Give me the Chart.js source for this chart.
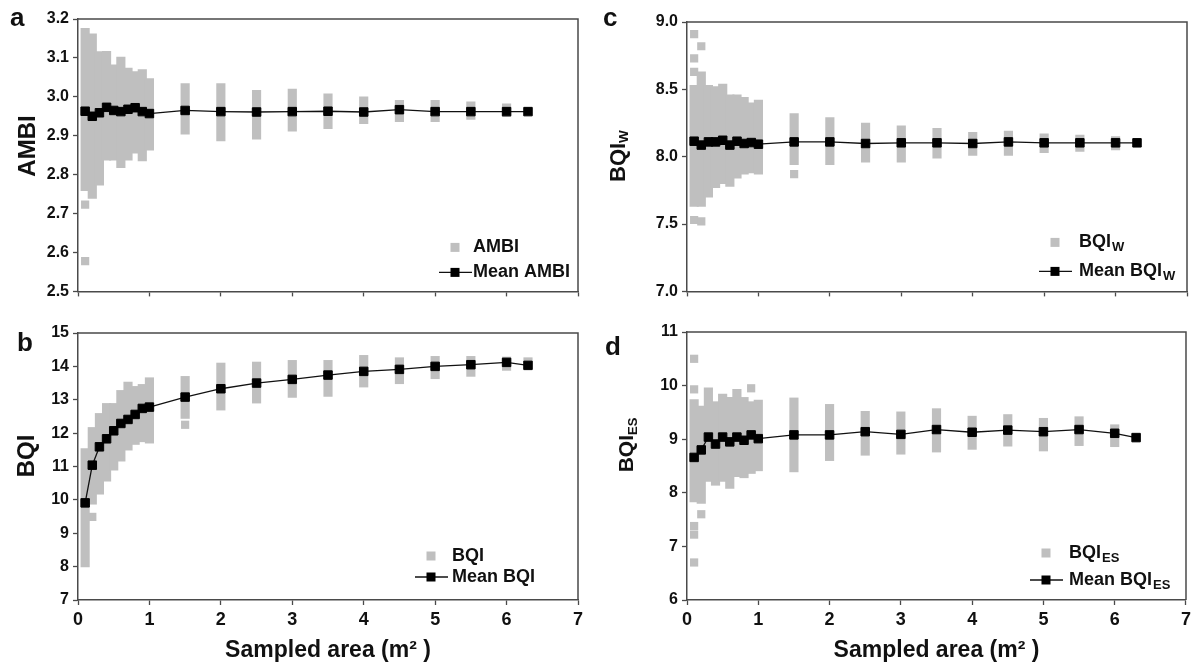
<!DOCTYPE html>
<html>
<head>
<meta charset="utf-8">
<script src="https://cdn.jsdelivr.net/npm/chart.js@4/dist/chart.umd.min.js"></script>
<style>
  body { margin:0; width:1195px; height:666px; background:#fff; position:relative; overflow:hidden;
         font-family:"Liberation Sans", Arial, sans-serif; font-weight:bold; color:#111; }
  canvas { position:absolute; }
  .letter { position:absolute; font-size:26px; line-height:26px; }
  .ytitle { position:absolute; white-space:nowrap; line-height:1; transform:translate(-50%,-50%) rotate(-90deg); }
  .ytitle sub { font-size:62%; vertical-align:-0.25em; }
</style>
</head>
<body>
<canvas id="chartA" width="600" height="305" style="left:0;top:0"></canvas>
<canvas id="chartB" width="600" height="361" style="left:0;top:305px"></canvas>
<canvas id="chartC" width="595" height="305" style="left:600px;top:0"></canvas>
<canvas id="chartD" width="595" height="361" style="left:600px;top:305px"></canvas>

<div class="letter" style="left:10px;top:4px">a</div>
<div class="letter" style="left:17px;top:329px">b</div>
<div class="letter" style="left:603px;top:4px">c</div>
<div class="letter" style="left:605px;top:333px">d</div>

<div class="ytitle" style="left:27px;top:146px;font-size:24px">AMBI</div>
<div class="ytitle" style="left:26px;top:456px;font-size:24px">BQI</div>
<div class="ytitle" style="left:619px;top:156px;font-size:22px">BQI<sub>W</sub></div>
<div class="ytitle" style="left:627px;top:445px;font-size:21px">BQI<sub>ES</sub></div>

<script>
// 표본 면적 (m2)
const areas = [0.1,0.2,0.3,0.4,0.5,0.6,0.7,0.8,0.9,1.0,1.5,2,2.5,3,3.5,4,4.5,5,5.5,6,6.3];

// 평균값
const meanAMBI = [2.963,2.950,2.959,2.973,2.965,2.962,2.968,2.972,2.962,2.957,2.965,2.962,2.961,2.962,2.963,2.961,2.967,2.962,2.962,2.962,2.962];
const meanBQI  = [9.91,11.04,11.59,11.83,12.07,12.29,12.41,12.56,12.74,12.78,13.08,13.33,13.50,13.61,13.74,13.85,13.91,14.00,14.05,14.12,14.03];
const meanBQIW = [8.115,8.086,8.11,8.11,8.122,8.086,8.115,8.098,8.105,8.093,8.11,8.11,8.098,8.103,8.103,8.098,8.11,8.103,8.103,8.103,8.103];
const meanBQIES = [8.66,8.80,9.04,8.91,9.04,8.95,9.04,8.98,9.08,9.01,9.08,9.08,9.14,9.09,9.18,9.13,9.17,9.14,9.18,9.11,9.03];

// 회색 범위 (하한 / 상한), areas 순서
const loAMBI = [2.759,2.739,2.773,2.837,2.837,2.818,2.837,2.855,2.835,2.863,2.904,2.887,2.891,2.912,2.918,2.931,2.936,2.936,2.942,2.949,null];
const hiAMBI = [3.176,3.162,3.116,3.117,3.082,3.102,3.074,3.065,3.070,3.047,3.034,3.034,3.017,3.020,3.008,3.000,2.991,2.991,2.987,2.982,null];
const loBQI = [7.99,9.87,10.17,10.56,10.89,11.16,11.49,11.66,11.74,11.70,12.44,12.69,12.90,13.07,13.10,13.38,13.48,13.63,13.70,13.88,13.93];
const hiBQI = [11.54,12.17,12.59,12.89,12.89,13.28,13.53,13.40,13.46,13.66,13.70,14.10,14.13,14.18,14.18,14.33,14.26,14.30,14.30,14.28,14.26];
const loBQIW = [7.63,7.63,7.70,7.77,7.80,7.78,7.84,7.87,7.88,7.87,7.94,7.94,7.96,7.96,7.99,8.01,8.01,8.03,8.04,8.05,null];
const hiBQIW = [8.53,8.63,8.53,8.52,8.54,8.46,8.46,8.44,8.40,8.42,8.32,8.29,8.25,8.23,8.21,8.18,8.19,8.17,8.16,8.15,null];
const loBQIES = [7.83,7.80,8.21,8.14,8.21,8.08,8.30,8.28,8.36,8.41,8.39,8.60,8.70,8.72,8.76,8.81,8.87,8.78,8.88,8.86,null];
const hiBQIES = [9.74,9.62,9.96,9.70,9.84,9.78,9.93,9.78,9.70,9.73,9.77,9.65,9.52,9.51,9.57,9.43,9.46,9.39,9.42,9.27,null];

// 떨어진 점들
const outAMBIx = [0.1,0.1];
const outAMBIy = [2.723,2.578];
const outBQIx = [0.2,1.5];
const outBQIy = [9.49,12.25];
const outBQIWx = [0.1,0.1,0.1,0.1,0.2,0.2,1.5];
const outBQIWy = [8.91,8.73,8.63,7.53,8.82,7.52,7.87];
const outBQIESx = [0.1,0.1,0.1,0.1,0.1,0.2,0.9];
const outBQIESy = [10.5,9.93,7.38,7.22,6.70,7.60,9.95];

// x 눈금
const xTicks = [0,1,2,3,4,5,6,7];

const GRAY = '#bfbfbf';
const AXIS = '#4a4a4a';
const FONT = '"Liberation Sans", Arial, sans-serif';

// 테두리 (위, 오른쪽)
const framePlugin = {
  id: 'frame',
  afterDraw(chart) {
    const a = chart.chartArea, ctx = chart.ctx;
    ctx.save();
    ctx.strokeStyle = AXIS;
    ctx.lineWidth = 1.5;
    ctx.beginPath();
    ctx.moveTo(a.left, a.top);
    ctx.lineTo(a.right, a.top);
    ctx.lineTo(a.right, a.bottom);
    ctx.stroke();
    ctx.restore();
  }
};

// 범례 (그림 안쪽 오른쪽 아래)
function drawLabel(ctx, x, y, name, sub) {
  ctx.font = 'bold 18px ' + FONT;
  ctx.fillText(name, x, y);
  if (sub) {
    const w = ctx.measureText(name).width;
    ctx.font = 'bold 13px ' + FONT;
    ctx.fillText(sub, x + w + 1, y + 5);
  }
}
const legendPlugin = {
  id: 'boxLegend',
  afterDraw(chart, args, o) {
    const a = chart.chartArea, ctx = chart.ctx;
    const sx = a.right + o.sqX, tx = a.right + o.textX;
    const y1 = a.bottom + o.y1, y2 = a.bottom + o.y2;
    ctx.save();
    ctx.fillStyle = GRAY;
    ctx.fillRect(sx - 4.5, y1 - 4.5, 9, 9);
    ctx.strokeStyle = '#111';
    ctx.lineWidth = 1.3;
    ctx.beginPath();
    ctx.moveTo(sx - 16, y2);
    ctx.lineTo(sx + 17, y2);
    ctx.stroke();
    ctx.fillStyle = '#000';
    ctx.fillRect(sx - 4.5, y2 - 4.5, 9, 9);
    ctx.fillStyle = '#111';
    ctx.textBaseline = 'middle';
    drawLabel(ctx, tx, y1, o.name, o.sub);
    drawLabel(ctx, tx, y2, 'Mean ' + o.name, o.sub);
    ctx.restore();
  }
};

function makePanel(id, p) {
  const bars = areas.map((x, i) => ({x: x, y: p.lo[i] == null ? null : [p.lo[i], p.hi[i]]}));
  const outs = p.outX.map((x, i) => ({x: x, y: p.outY[i]}));
  const means = areas.map((x, i) => ({x: x, y: p.mean[i]}));
  return new Chart(document.getElementById(id), {
    type: 'scatter',
    data: {
      datasets: [
        { type: 'line', data: means, order: 0, borderColor: '#111', borderWidth: 1.3, tension: 0,
          pointStyle: 'rect', pointRadius: 6, pointBackgroundColor: '#000', pointBorderColor: '#000', pointBorderWidth: 1 },
        { type: 'scatter', data: outs, order: 1, pointStyle: 'rect', pointRadius: 5.8,
          pointBackgroundColor: GRAY, pointBorderWidth: 0, borderWidth: 0 },
        { type: 'bar', data: bars, order: 2, backgroundColor: GRAY, borderWidth: 0, barThickness: 8.5 }
      ]
    },
    options: {
      responsive: false,
      animation: false,
      devicePixelRatio: 1,
      layout: { padding: p.pad },
      plugins: {
        legend: { display: false },
        tooltip: { enabled: false },
        boxLegend: p.legend
      },
      scales: {
        x: {
          type: 'linear', min: 0, max: 7, offset: false,
          afterBuildTicks: s => { s.ticks = xTicks.map(v => ({value: v})); },
          afterFit: s => { s.height = p.xh; },
          grid: { drawOnChartArea: false, drawTicks: true, tickLength: 5, tickColor: AXIS, offset: false, tickWidth: 1.3 },
          border: { color: AXIS, width: 1.5 },
          ticks: { display: p.showX, maxRotation: 0, padding: 4, color: '#111', font: { family: FONT, size: 18, weight: 'bold' } },
          title: { display: p.showX, text: 'Sampled area (m² )', color: '#111', padding: { bottom: 2 },
                   font: { family: FONT, size: 23, weight: 'bold' } }
        },
        y: {
          min: p.min, max: p.max,
          afterBuildTicks: s => { s.ticks = p.yTicks.map(v => ({value: v})); },
          afterFit: s => { s.width = p.yw; },
          grid: { drawOnChartArea: false, drawTicks: true, tickLength: 5, tickColor: AXIS, tickWidth: 1.3 },
          border: { color: AXIS, width: 1.5 },
          ticks: { padding: 4, color: '#111', font: { family: FONT, size: 16, weight: 'bold' },
                   callback: v => v.toFixed(p.dec) }
        }
      }
    },
    plugins: [framePlugin, legendPlugin]
  });
}

makePanel('chartA', {
  mean: meanAMBI, lo: loAMBI, hi: hiAMBI, outX: outAMBIx, outY: outAMBIy,
  min: 2.5, max: 3.2, yTicks: [2.5,2.6,2.7,2.8,2.9,3.0,3.1,3.2], dec: 1,
  pad: { top: 19, right: 22, left: 0, bottom: 0 }, yw: 78, xh: 12, showX: false,
  legend: { name: 'AMBI', sub: '', sqX: -123, textX: -105, y1: -44, y2: -19 }
});
makePanel('chartB', {
  mean: meanBQI, lo: loBQI, hi: hiBQI, outX: outBQIx, outY: outBQIy,
  min: 7, max: 15, yTicks: [7,8,9,10,11,12,13,14,15], dec: 0,
  pad: { top: 28, right: 22, left: 0, bottom: 0 }, yw: 78, xh: 66, showX: true,
  legend: { name: 'BQI', sub: '', sqX: -147, textX: -126, y1: -44, y2: -23 }
});
makePanel('chartC', {
  mean: meanBQIW, lo: loBQIW, hi: hiBQIW, outX: outBQIWx, outY: outBQIWy,
  min: 7, max: 9, yTicks: [7,7.5,8,8.5,9], dec: 1,
  pad: { top: 22, right: 8, left: 0, bottom: 0 }, yw: 87, xh: 10, showX: false,
  legend: { name: 'BQI', sub: 'W', sqX: -132, textX: -108, y1: -49, y2: -20 }
});
makePanel('chartD', {
  mean: meanBQIES, lo: loBQIES, hi: hiBQIES, outX: outBQIESx, outY: outBQIESy,
  min: 6, max: 11, yTicks: [6,7,8,9,10,11], dec: 0,
  pad: { top: 27, right: 8, left: 0, bottom: 0 }, yw: 87, xh: 66, showX: true,
  legend: { name: 'BQI', sub: 'ES', sqX: -140, textX: -117, y1: -47, y2: -20 }
});
</script>
</body>
</html>
